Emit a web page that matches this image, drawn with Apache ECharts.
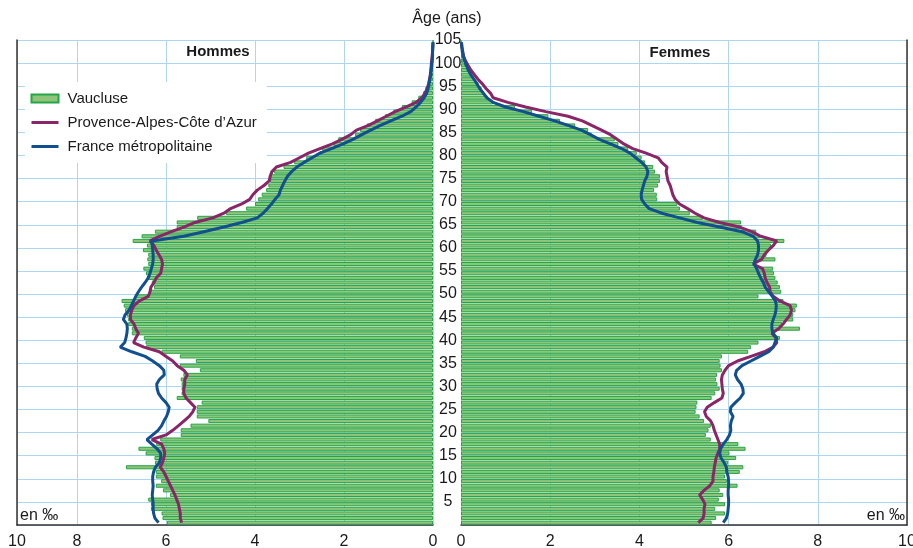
<!DOCTYPE html>
<html>
<head>
<meta charset="utf-8">
<script src="https://cdn.jsdelivr.net/npm/echarts@6/dist/echarts.min.js"></script>
<style>
  html, body { margin: 0; padding: 0; background: #fff; }
  #main { width: 913px; height: 548px; }
</style>
</head>
<body>
<div id="main"></div>
<script>
var chartDom = document.getElementById('main');
var myChart = echarts.init(chartDom);
var option;

// ages 0..104, one bar per year
var ages = [];
for (var i = 0; i < 105; i++) ages.push(String(i));

// en pour mille
var vauH = [5.98, 6.08, 6.10, 6.34, 6.34, 6.40, 5.91, 6.07, 6.23, 6.11,
  6.23, 6.23, 6.90, 6.25, 6.26, 6.46, 6.62, 6.22, 6.13, 5.67,
  5.67, 5.45, 5.05, 5.31, 5.31, 5.31, 5.20, 5.76, 5.65, 5.65,
  5.65, 5.67, 5.61, 5.24, 5.69, 5.33, 5.69, 6.10, 6.45, 6.46,
  6.50, 6.77, 6.77, 6.85, 6.85, 6.88, 6.92, 6.95, 7.00, 6.70,
  6.36, 6.27, 6.32, 6.43, 6.45, 6.51, 6.40, 6.42, 6.40, 6.52,
  6.43, 6.75, 6.55, 6.25, 5.76, 5.76, 5.30, 4.65, 4.20, 4.00,
  3.93, 3.85, 3.75, 3.70, 3.66, 3.65, 3.57, 3.36, 3.12, 2.85,
  2.55, 2.50, 2.24, 2.13, 1.75, 1.64, 1.49, 1.30, 1.08, 0.89,
  0.70, 0.48, 0.33, 0.22, 0.17, 0.10, 0.07, 0.05, 0.03, 0.02,
  0.01, 0.01, 0, 0, 0];

var pacaH = [5.65, 5.68, 5.68, 5.70, 5.72, 5.76, 5.80, 5.85, 5.90, 5.95,
  6.00, 6.05, 6.13, 6.08, 6.05, 6.03, 6.05, 6.10, 6.32, 6.00,
  5.85, 5.72, 5.60, 5.48, 5.40, 5.35, 5.45, 5.55, 5.60, 5.60,
  5.58, 5.58, 5.52, 5.60, 5.75, 5.85, 6.00, 6.15, 6.50, 6.73,
  6.68, 6.62, 6.68, 6.72, 6.80, 6.80, 6.77, 6.72, 6.60, 6.40,
  6.36, 6.34, 6.27, 6.22, 6.12, 6.10, 6.08, 6.10, 6.16, 6.22,
  6.27, 6.36, 6.15, 5.88, 5.60, 5.35, 4.95, 4.70, 4.55, 4.30,
  4.12, 4.05, 3.95, 3.80, 3.68, 3.66, 3.62, 3.52, 3.20, 3.00,
  2.80, 2.54, 2.26, 2.05, 1.85, 1.72, 1.45, 1.25, 1.05, 0.85,
  0.60, 0.38, 0.25, 0.18, 0.13, 0.10, 0.08, 0.06, 0.05, 0.04,
  0.03, 0.02, 0.01, 0.01, 0];

var frH = [6.17, 6.25, 6.28, 6.29, 6.29, 6.30, 6.31, 6.30, 6.29, 6.30,
  6.30, 6.28, 6.24, 6.15, 6.12, 6.12, 6.20, 6.32, 6.43, 6.30,
  6.18, 6.10, 6.05, 5.99, 5.95, 5.93, 6.00, 6.10, 6.17, 6.20,
  6.21, 6.15, 6.04, 6.05, 6.15, 6.30, 6.47, 6.77, 7.03, 6.93,
  6.90, 6.88, 6.87, 6.88, 6.96, 6.92, 6.83, 6.78, 6.73, 6.68,
  6.62, 6.55, 6.47, 6.40, 6.36, 6.33, 6.30, 6.29, 6.29, 6.30,
  6.31, 6.32, 5.60, 5.15, 4.70, 4.30, 3.95, 3.82, 3.72, 3.63,
  3.55, 3.46, 3.43, 3.38, 3.33, 3.27, 3.18, 3.06, 2.90, 2.72,
  2.54, 2.28, 2.02, 1.80, 1.60, 1.40, 1.18, 0.95, 0.70, 0.50,
  0.38, 0.28, 0.20, 0.14, 0.11, 0.09, 0.07, 0.05, 0.04, 0.03,
  0.02, 0.01, 0.01, 0, 0];

var vauF = [5.62, 5.72, 5.92, 5.70, 5.92, 5.78, 5.88, 5.80, 6.20, 5.96,
  5.92, 6.25, 6.33, 5.99, 6.17, 6.02, 6.38, 6.22, 5.60, 5.49,
  5.55, 5.60, 5.45, 5.35, 5.26, 5.28, 5.30, 5.62, 5.70, 5.80,
  5.75, 5.72, 5.74, 5.85, 5.82, 5.80, 5.85, 6.44, 6.50, 6.67,
  7.15, 7.00, 7.60, 7.20, 7.45, 7.45, 7.50, 7.53, 7.23, 6.67,
  7.18, 7.15, 7.10, 7.05, 7.02, 7.00, 6.60, 7.05, 6.85, 6.88,
  6.95, 7.25, 6.70, 6.62, 6.30, 6.28, 5.43, 5.13, 4.91, 4.85,
  4.40, 4.39, 4.33, 4.42, 4.46, 4.46, 4.35, 4.31, 4.13, 4.05,
  3.94, 3.75, 3.53, 3.45, 2.93, 2.85, 2.56, 2.22, 1.96, 1.59,
  1.21, 0.72, 0.60, 0.52, 0.46, 0.39, 0.30, 0.24, 0.16, 0.10,
  0.06, 0.03, 0.02, 0.01, 0];

var pacaF = [5.32, 5.43, 5.45, 5.45, 5.47, 5.42, 5.35, 5.45, 5.58, 5.65,
  5.65, 5.67, 5.68, 5.70, 5.72, 5.76, 5.80, 5.80, 5.76, 5.72,
  5.68, 5.65, 5.60, 5.50, 5.46, 5.52, 5.68, 5.85, 5.88, 5.86,
  5.85, 5.84, 5.86, 5.92, 6.00, 6.20, 6.50, 6.80, 7.00, 7.08,
  7.06, 6.97, 7.12, 7.22, 7.30, 7.38, 7.41, 7.38, 7.15, 7.00,
  6.93, 6.92, 6.86, 6.82, 6.80, 6.76, 6.55, 6.74, 6.80, 6.89,
  7.00, 7.08, 6.72, 6.52, 6.24, 5.80, 5.45, 5.25, 5.08, 4.90,
  4.80, 4.75, 4.72, 4.69, 4.64, 4.62, 4.60, 4.62, 4.50, 4.42,
  4.15, 3.85, 3.65, 3.50, 3.35, 3.15, 2.93, 2.72, 2.40, 1.90,
  1.45, 1.05, 0.72, 0.66, 0.56, 0.48, 0.38, 0.30, 0.22, 0.16,
  0.10, 0.06, 0.04, 0.02, 0.01];

var frF = [5.88, 5.95, 5.98, 5.99, 6.00, 6.00, 5.99, 5.99, 6.00, 6.00,
  5.99, 5.96, 5.95, 5.90, 5.83, 5.80, 5.82, 5.88, 5.96, 6.02,
  6.05, 6.04, 6.06, 6.10, 6.04, 6.05, 6.15, 6.26, 6.33, 6.32,
  6.28, 6.20, 6.15, 6.18, 6.30, 6.50, 6.70, 6.90, 7.00, 7.04,
  7.08, 7.00, 6.97, 6.97, 7.00, 7.04, 7.06, 7.07, 7.05, 6.98,
  6.90, 6.82, 6.78, 6.72, 6.67, 6.63, 6.57, 6.60, 6.65, 6.67,
  6.67, 6.65, 6.55, 6.30, 5.80, 5.30, 4.90, 4.50, 4.22, 4.12,
  4.05, 4.04, 4.06, 4.09, 4.12, 4.17, 4.19, 4.15, 4.05, 3.92,
  3.79, 3.60, 3.35, 3.10, 2.90, 2.70, 2.40, 2.10, 1.75, 1.40,
  1.00, 0.72, 0.58, 0.50, 0.42, 0.36, 0.29, 0.22, 0.16, 0.12,
  0.08, 0.05, 0.03, 0.02, 0.01];

var pctTicks = [0, 2, 4, 6, 8, 10];
// the men's side is cut before 10, the label "10" sits on the frame edge
var LEFT_MAX = 9.35;

var FONT = 'Liberation Sans';
var GRIDLINE = '#acd6f1';
var FRAME = '#333';
var TXT = '#1a1a1a';

var NAME_VAU = 'Vaucluse';
var NAME_PACA = 'Provence-Alpes-Côte d\u2019Azur';
var NAME_FR = 'France métropolitaine';

var barStyle = { color: '#90c47b', borderColor: '#22a646', borderWidth: 1 };
var pacaStyle = { color: '#8a2567', width: 3 };
var frStyle = { color: '#114f8e', width: 3 };

option = {
    animation: false,
    textStyle: { fontFamily: FONT },
    color: ['#90c47b', '#8a2567', '#114f8e'],
    grid: [
        { left: 17, right: 480, top: 40, bottom: 23, outerBoundsMode: 'none', containLabel: false },
        { left: 461, right: 6, top: 40, bottom: 23, outerBoundsMode: 'none', containLabel: false }
    ],
    legend: {
        orient: 'vertical',
        left: 25,
        top: 82,
        backgroundColor: '#fff',
        padding: [9, 10, 9, 5],
        itemWidth: 27,
        itemHeight: 8,
        itemGap: 9,
        selectedMode: false,
        lineStyle: { width: 3 },
        textStyle: { fontSize: 15, lineHeight: 15, color: TXT, fontFamily: FONT, padding: [0, 0, 0, 4] },
        data: [
            { name: NAME_VAU, icon: 'rect' },
            { name: NAME_PACA, itemStyle: { opacity: 0 }, lineStyle: { width: 3 } },
            { name: NAME_FR, itemStyle: { opacity: 0 }, lineStyle: { width: 3 } }
        ]
    },
    xAxis: [
        {
            gridIndex: 0,
            type: 'value',
            inverse: true,
            min: 0,
            max: LEFT_MAX,
            interval: 2,
            axisLine: { show: true, onZero: false, lineStyle: { color: FRAME, width: 1.5 } },
            axisTick: { show: false },
            axisLabel: {
                customValues: pctTicks.map(function (v) { return Math.min(v, LEFT_MAX); }),
                formatter: function (v) { return v >= LEFT_MAX - 1e-6 ? String(pctTicks[pctTicks.length - 1]) : String(v); },
                fontSize: 16, color: TXT, margin: 9, fontFamily: FONT
            },
            splitLine: { show: true, lineStyle: { color: GRIDLINE, width: 1 } }
        },
        {
            gridIndex: 1,
            type: 'value',
            min: 0,
            max: 10,
            interval: 2,
            axisLine: { show: true, onZero: false, lineStyle: { color: FRAME, width: 1.5 } },
            axisTick: { show: false },
            axisLabel: {
                customValues: pctTicks,
                fontSize: 16, color: TXT, margin: 9, fontFamily: FONT
            },
            splitLine: { show: true, lineStyle: { color: GRIDLINE, width: 1 } }
        }
    ],
    yAxis: [
        {
            gridIndex: 0,
            type: 'category',
            data: ages,
            position: 'left',
            axisLine: { show: true, onZero: false, lineStyle: { color: FRAME, width: 1.5 } },
            axisTick: { show: false },
            axisLabel: { show: false },
            splitLine: { show: false }
        },
        {
            gridIndex: 0,
            type: 'value',
            min: 0,
            max: 105,
            interval: 5,
            position: 'right',
            axisLine: { show: false, onZero: false },
            axisTick: { show: false },
            axisLabel: {
                show: true,
                align: 'center',
                margin: 15,
                fontSize: 16,
                color: TXT,
                fontFamily: FONT,
                formatter: function (v) { return v === 0 ? '' : String(v); }
            },
            splitLine: { show: true, lineStyle: { color: GRIDLINE, width: 1 } }
        },
        {
            gridIndex: 1,
            type: 'category',
            data: ages,
            position: 'right',
            axisLine: { show: true, onZero: false, lineStyle: { color: FRAME, width: 1.5 } },
            axisTick: { show: false },
            axisLabel: { show: false },
            splitLine: { show: false }
        },
        {
            gridIndex: 1,
            type: 'value',
            min: 0,
            max: 105,
            interval: 5,
            position: 'left',
            axisLine: { show: false, onZero: false },
            axisTick: { show: false },
            axisLabel: { show: false },
            splitLine: { show: true, lineStyle: { color: GRIDLINE, width: 1 } }
        }
    ],
    graphic: [
        { type: 'text', x: 447, y: 19, style: { text: 'Âge (ans)', fontSize: 16, fontFamily: FONT, fill: TXT, align: 'center', verticalAlign: 'middle' } },
        { type: 'text', x: 218, y: 52, style: { text: 'Hommes', fontSize: 15, fontWeight: 'bold', fontFamily: FONT, fill: TXT, align: 'center', verticalAlign: 'middle' } },
        { type: 'text', x: 680, y: 53, style: { text: 'Femmes', fontSize: 15, fontWeight: 'bold', fontFamily: FONT, fill: TXT, align: 'center', verticalAlign: 'middle' } },
        { type: 'text', x: 20, y: 516, style: { text: 'en ‰', fontSize: 16, fontFamily: FONT, fill: TXT, align: 'left', verticalAlign: 'middle' } },
        { type: 'text', x: 905, y: 516, style: { text: 'en ‰', fontSize: 16, fontFamily: FONT, fill: TXT, align: 'right', verticalAlign: 'middle' } }
    ],
    series: [
        {
            name: NAME_VAU, type: 'bar', xAxisIndex: 0, yAxisIndex: 0,
            data: vauH, barCategoryGap: '12%', itemStyle: barStyle, silent: true
        },
        {
            name: NAME_PACA, type: 'line', xAxisIndex: 0, yAxisIndex: 0,
            data: pacaH, symbol: 'none', lineStyle: pacaStyle, itemStyle: { color: pacaStyle.color }, silent: true, z: 3
        },
        {
            name: NAME_FR, type: 'line', xAxisIndex: 0, yAxisIndex: 0,
            data: frH, symbol: 'none', lineStyle: frStyle, itemStyle: { color: frStyle.color }, silent: true, z: 3
        },
        {
            name: NAME_VAU, type: 'bar', xAxisIndex: 1, yAxisIndex: 2,
            data: vauF, barCategoryGap: '12%', itemStyle: barStyle, silent: true
        },
        {
            name: NAME_PACA, type: 'line', xAxisIndex: 1, yAxisIndex: 2,
            data: pacaF, symbol: 'none', lineStyle: pacaStyle, itemStyle: { color: pacaStyle.color }, silent: true, z: 3
        },
        {
            name: NAME_FR, type: 'line', xAxisIndex: 1, yAxisIndex: 2,
            data: frF, symbol: 'none', lineStyle: frStyle, itemStyle: { color: frStyle.color }, silent: true, z: 3
        }
    ]
};

option && myChart.setOption(option);
</script>
</body>
</html>
